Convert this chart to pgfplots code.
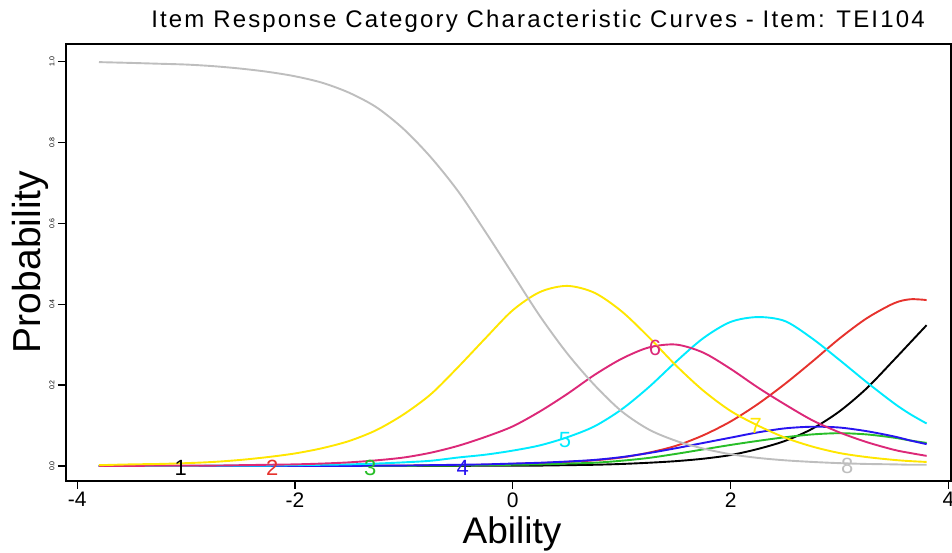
\documentclass[border=0pt]{standalone}
\usepackage{fontspec}
\setmainfont{Liberation Sans}
\usepackage{pgfplots}
\usepackage{pgfplotstable}
\pgfplotsset{compat=1.18}

% category colours
\definecolor{c1}{RGB}{0,0,0}
\definecolor{c2}{RGB}{230,50,45}
\definecolor{c3}{RGB}{40,190,40}
\definecolor{c4}{RGB}{40,20,240}
\definecolor{c5}{RGB}{0,235,255}
\definecolor{c6}{RGB}{220,40,120}
\definecolor{c7}{RGB}{255,230,0}
\definecolor{c8}{RGB}{190,190,190}

% category response probabilities by ability
\pgfplotstableread{
t     c1    c2    c3    c4    c5    c6    c7    c8
-3.8  0     0     0     0     0     0     0.002 0.998
-3.5  0     0     0     0     0     0     0.004 0.996
-3.25 0     0     0     0     0     0.001 0.005 0.994
-3    0     0     0     0     0     0.001 0.007 0.992
-2.75 0     0     0     0     0.001 0.001 0.010 0.988
-2.5  0     0     0     0     0.001 0.002 0.015 0.982
-2.25 0     0     0     0     0.001 0.003 0.022 0.974
-2    0     0     0     0     0.002 0.004 0.031 0.963
-1.75 0     0     0     0     0.003 0.006 0.044 0.947
-1.5  0     0.001 0     0     0.004 0.009 0.062 0.922
-1.25 0     0.001 0     0.001 0.006 0.014 0.089 0.886
-1    0     0.001 0     0.001 0.009 0.021 0.128 0.832
-0.75 0     0.002 0.001 0.002 0.013 0.033 0.178 0.762
-0.5  0     0.002 0.001 0.003 0.021 0.050 0.245 0.678
-0.25 0.001 0.003 0.002 0.004 0.028 0.072 0.316 0.578
0     0.001 0.005 0.003 0.006 0.038 0.098 0.385 0.474
0.25  0.001 0.007 0.004 0.008 0.051 0.135 0.430 0.370
0.5   0.002 0.010 0.006 0.011 0.071 0.178 0.445 0.278
0.75  0.003 0.014 0.008 0.015 0.098 0.225 0.428 0.200
1     0.005 0.021 0.013 0.022 0.140 0.265 0.382 0.135
1.25  0.008 0.033 0.020 0.032 0.195 0.293 0.318 0.090
1.5   0.012 0.050 0.030 0.044 0.258 0.300 0.248 0.062
1.75  0.018 0.076 0.041 0.057 0.316 0.280 0.186 0.043
2     0.027 0.110 0.052 0.070 0.356 0.240 0.136 0.029
2.25  0.042 0.153 0.062 0.083 0.368 0.194 0.100 0.020
2.5   0.062 0.203 0.071 0.093 0.358 0.152 0.070 0.014
2.75  0.092 0.258 0.078 0.097 0.315 0.113 0.048 0.010
3     0.135 0.315 0.081 0.095 0.262 0.083 0.032 0.007
3.25  0.192 0.365 0.078 0.086 0.207 0.059 0.022 0.005
3.5   0.262 0.402 0.070 0.073 0.155 0.040 0.015 0.004
3.65  0.305 0.412 0.063 0.063 0.128 0.032 0.012 0.003
3.8   0.348 0.410 0.057 0.054 0.105 0.025 0.010 0.003
}\icc

\begin{document}
\begin{tikzpicture}[x=1pt,y=1pt]
\begin{axis}[
  at={(0,0)}, anchor=south west,
  scale only axis, width=885pt, height=437pt,
  xmin=-4.103, xmax=4.024, ymin=-0.0371, ymax=1.0428,
  axis line style={line width=1.4pt},
  xtick={-4,-2,0,2,4},
  ytick={0,0.2,0.4,0.6,0.8,1},
  xtick pos=lower, ytick pos=left,
  tick align=outside, major tick length=8pt,
  tick style={line width=1.2pt, black},
  /pgf/number format/assume math mode=true,
  xticklabel style={font=\fontsize{21}{22}\selectfont},
  yticklabel style={font=\fontsize{7}{8}\selectfont, rotate=90, anchor=south,
    /pgf/number format/.cd, fixed, fixed zerofill, precision=1},
  clip=false,
  every axis plot/.append style={line width=1.9pt, smooth, no markers},
]
\addplot[c1] table[x=t, y=c1] {\icc};
\addplot[c2] table[x=t, y=c2] {\icc};
\addplot[c3] table[x=t, y=c3] {\icc};
\addplot[c4] table[x=t, y=c4] {\icc};
\addplot[c5] table[x=t, y=c5] {\icc};
\addplot[c6] table[x=t, y=c6] {\icc};
\addplot[c7] table[x=t, y=c7] {\icc};
\addplot[c8] table[x=t, y=c8] {\icc};

% category numbers on their curves
\begin{scope}[every node/.style={font=\fontsize{22}{22}\selectfont}]
\node[text=c1] at (axis cs:-3.05,-0.005) {1};
\node[text=c2] at (axis cs:-2.21,-0.005) {2};
\node[text=c3] at (axis cs:-1.31,-0.005) {3};
\node[text=c4] at (axis cs:-0.46,-0.005) {4};
\node[text=c5] at (axis cs:0.48,0.064) {5};
\node[text=c6] at (axis cs:1.305,0.292) {6};
\node[text=c7] at (axis cs:2.23,0.10) {7};
\node[text=c8] at (axis cs:3.07,0.0) {8};
\end{scope}
\end{axis}

\node[font=\fontsize{24}{26}\selectfont\addfontfeature{LetterSpace=9}] at (472,460)
  {Item Response Category Characteristic Curves - Item: TEI104};
\node[font=\fontsize{37}{38}\selectfont] at (446,-53) {Ability};
\node[font=\fontsize{39}{40}\selectfont, rotate=90] at (-36,219) {Probability};

\pgfresetboundingbox
\path[use as bounding box] (-66,-72) rectangle (886,481);
\end{tikzpicture}
\end{document}
